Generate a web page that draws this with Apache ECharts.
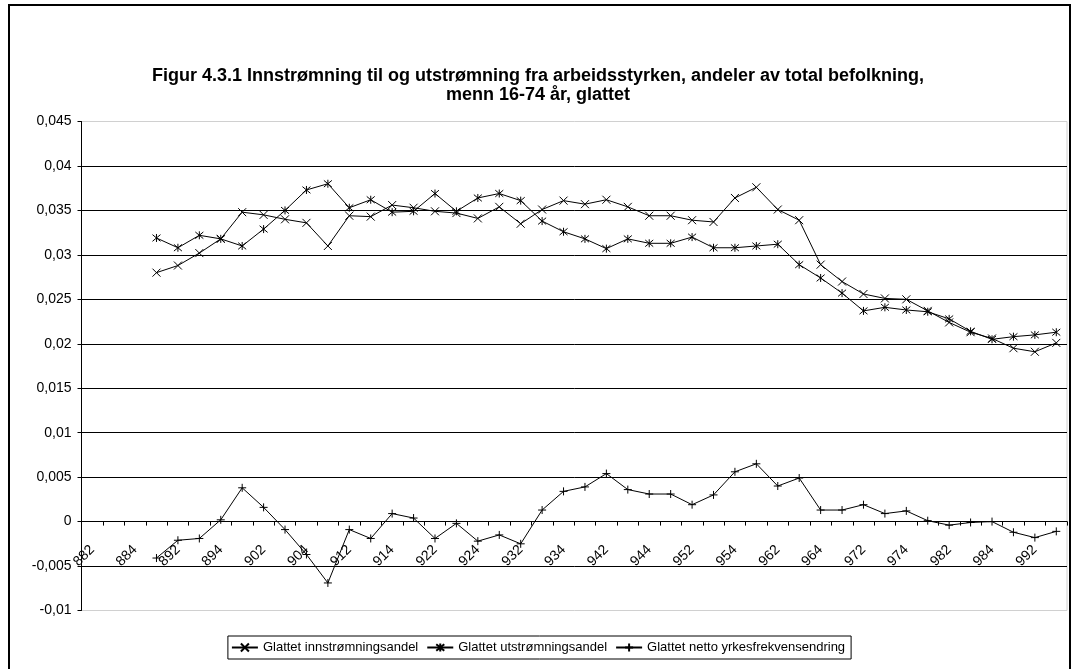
<!DOCTYPE html>
<html>
<head>
<meta charset="utf-8">
<script src="https://cdn.jsdelivr.net/npm/echarts@6/dist/echarts.min.js"></script>
<style>
html,body{margin:0;padding:0;background:#fff;}
#c{width:1076px;height:669px;}
</style>
</head>
<body>
<div id="c"></div>
<script>
const categories = ['882','883','884','891','892','893','894','901','902','903','904','911','912','913','914','921','922','923','924','931','932','933','934','941','942','943','944','951','952','953','954','961','962','963','964','971','972','973','974','981','982','983','984','991','992','993'];

const inflow = [null,null,null,
 0.0280,0.0288,0.0302,0.0318,0.0348,0.0345,0.0340,0.0336,0.0310,0.0344,
 0.0343,0.0356,0.0353,0.0349,0.0347,0.0341,0.0354,0.0335,0.0351,0.0361,
 0.0357,0.0362,0.0354,0.0344,0.0344,0.0339,0.0337,0.0364,0.0376,0.0351,
 0.0339,0.0289,0.0270,0.0256,0.0251,0.0250,0.0237,0.0224,0.0213,0.0206,
 0.0195,0.0191,0.0201];

const outflow = [null,null,null,
 0.0319,0.0308,0.0322,0.0318,0.0310,0.0329,0.0350,0.0373,0.0380,0.0353,
 0.0362,0.0348,0.0349,0.0369,0.0349,0.0364,0.0369,0.0361,0.0338,0.0326,
 0.0318,0.0307,0.0318,0.0313,0.0313,0.0320,0.0308,0.0308,0.0310,0.0312,
 0.0289,0.0274,0.0257,0.0237,0.0241,0.0238,0.0236,0.0228,0.0214,0.0205,
 0.0208,0.0210,0.0213];

const netChange = [null,null,null,
 -0.0041,-0.0021,-0.0019,0.0002,0.0038,0.0016,-0.0009,-0.0037,-0.0069,-0.0009,
 -0.0019,0.0009,0.0004,-0.0019,-0.0002,-0.0022,-0.0015,-0.0025,0.0013,0.0034,
 0.0039,0.0054,0.0036,0.0031,0.0031,0.0019,0.0030,0.0056,0.0065,0.0040,
 0.0049,0.0013,0.0013,0.0019,0.0009,0.0012,0.0001,-0.0004,-0.0001,0.0000,
 -0.0012,-0.0018,-0.0011];

const yTicks = {min: -0.01, max: 0.045, step: 0.005};

const seriesNames = ['Glattet innstrømningsandel','Glattet utstrømningsandel','Glattet netto yrkesfrekvensendring'];
const titleText = 'Figur 4.3.1 Innstrømning til og utstrømning fra arbeidsstyrken, andeler av total befolkning,\nmenn 16-74 år, glattet';

const FONT = "'Liberation Sans', Arial, sans-serif";
const SYM_X = 'path://M0 0L2 2M2 0L0 2';
const SYM_AST = 'path://M0 0L2 2M2 0L0 2M1 -0.2L1 2.2';
const SYM_PLUS = 'path://M1 0L1 2M0 1L2 1';

const GRID = {left: 81.5, right: 9, top: 121.5, bottom: 58.5};
const plotH = 669 - GRID.top - GRID.bottom;
// move category axis to the zero line (layout, derived from axis range)
const zeroOffset = -plotH * (0 - yTicks.min) / (yTicks.max - yTicks.min);

function mkSeries(name, data, sym) {
  return {
    name: name, type: 'line', data: data, symbol: sym, symbolSize: 8,
    showAllSymbol: true, connectNulls: false,
    lineStyle: {color: '#000', width: 1},
    itemStyle: {color: '#000', borderColor: '#000', borderWidth: 1},
    emphasis: {disabled: true}, animation: false
  };
}

const chart = echarts.init(document.getElementById('c'), null, {renderer: 'canvas'});
chart.setOption({
  animation: false,
  backgroundColor: '#fff',
  title: {
    text: titleText, left: 'center', top: 62,
    textStyle: {fontFamily: FONT, fontSize: 18, fontWeight: 'bold', color: '#000', lineHeight: 19, align: 'center'}
  },
  graphic: [{
    type: 'rect', shape: {x: 9, y: 5, width: 1061, height: 690},
    style: {fill: 'none', stroke: '#000', lineWidth: 2}, silent: true
  }],
  grid: Object.assign({show: true, borderColor: '#d0d0d0', borderWidth: 1, containLabel: false}, GRID),
  legend: {
    data: seriesNames, top: 636, left: 'center',
    borderColor: '#000', borderWidth: 1, padding: [5, 6, 5, 3],
    itemWidth: 26, itemHeight: 10, itemGap: 8,
    textStyle: {fontFamily: FONT, fontSize: 13, color: '#000'}
  },
  xAxis: {
    type: 'category', data: categories, boundaryGap: true,
    position: 'bottom', offset: zeroOffset,
    axisLine: {onZero: false, lineStyle: {color: '#000', width: 1}},
    axisTick: {show: true, interval: 0, length: 4, inside: false, lineStyle: {color: '#000'}},
    axisLabel: {interval: 1, rotate: 45, margin: 26, fontFamily: FONT, fontSize: 14, color: '#000'},
    splitLine: {show: false}
  },
  yAxis: {
    type: 'value', min: yTicks.min, max: yTicks.max, interval: yTicks.step,
    axisLine: {show: true, lineStyle: {color: '#000', width: 1}},
    axisTick: {show: true, length: 4, lineStyle: {color: '#000'}},
    axisLabel: {
      margin: 10, fontFamily: FONT, fontSize: 14, color: '#000',
      formatter: function (v) { return String(parseFloat(v.toFixed(4))).replace('.', ','); }
    },
    splitLine: {show: true, showMinLine: false, showMaxLine: false, lineStyle: {color: '#000', width: 1}}
  },
  series: [
    mkSeries(seriesNames[0], inflow, SYM_X),
    mkSeries(seriesNames[1], outflow, SYM_AST),
    mkSeries(seriesNames[2], netChange, SYM_PLUS)
  ]
});
</script>
</body>
</html>
